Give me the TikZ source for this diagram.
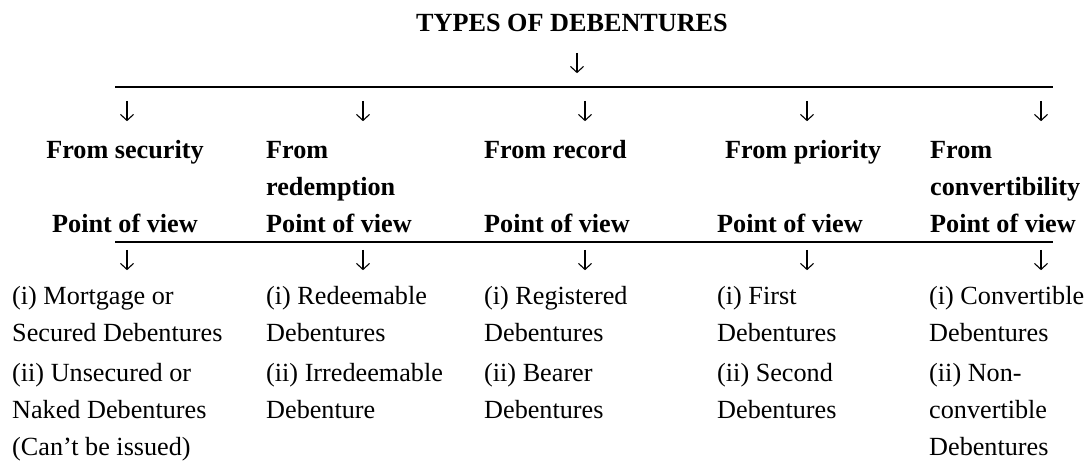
\documentclass[tikz,border=0pt]{standalone}
\usepackage{fontspec}
\setmainfont{Liberation Serif}
\usetikzlibrary{positioning,arrows.meta}

\begin{document}
\begin{tikzpicture}[
    x=1pt, y=-1pt,
    txt/.style={inner sep=0pt, font=\fontsize{26.2}{37}\selectfont},
    head/.style={txt, font=\fontsize{26.2}{37}\selectfont\bfseries, anchor=base west, align=left},
    dn/.style={inner sep=0pt, minimum width=13pt, minimum height=20pt,
        append after command={(\tikzlastnode.north) edge[-{Straight Barb[length=6pt, width=13pt]}, line width=1.1pt] (\tikzlastnode.south)}},
    item/.style={txt, anchor=north west, align=left},
    bar/.style={line width=2.2pt}
]
\useasboundingbox (0,0) rectangle (1091,460);
\node[head, anchor=base] (title) at (572,32) {TYPES OF DEBENTURES};
\node[dn] (down) at (577,63) {};
\coordinate (top-l) at (115,87);
\coordinate (top-r) at (1053,87);
\draw[bar] (top-l) -- (top-r);
% arrows to the five groups
\node[dn] (a-sec) at (127,111) {};
\node[dn] (a-red) at (363,111) {};
\node[dn] (a-rec) at (585,111) {};
\node[dn] (a-pri) at (807,111) {};
\node[dn] (a-con) at (1041,111) {};
% group headings
\node[head, anchor=base] (h-sec) at (125,158) {From security};
\node[head, anchor=base] (p-sec) at (125,232) {Point of view};
\node[head, anchor=north west] (h-red) at (266,132.1) {\strut From\\redemption};
\node[head] (p-red) at (266,232) {Point of view};
\node[head] (h-rec) at (484,158) {From record};
\node[head] (p-rec) at (484,232) {Point of view};
\node[head] (h-pri) at (725,158) {From priority};
\node[head] (p-pri) at (717,232) {Point of view};
\node[head, anchor=north west] (h-con) at (930,132.1) {\strut From\\convertibility};
\node[head] (p-con) at (930,232) {Point of view};
\coordinate (mid-l) at (115,242);
\coordinate (mid-r) at (1053,242);
\draw[bar] (mid-l) -- (mid-r);
\node[dn] (b-sec) at (127,260) {};
\node[dn] (b-red) at (363,260) {};
\node[dn] (b-rec) at (585,260) {};
\node[dn] (b-pri) at (807,260) {};
\node[dn] (b-con) at (1041,260) {};
% kinds of debentures
\node[item] (sec-1) at (12,278.1) {\strut(i) Mortgage or\\Secured Debentures\strut};
\node[item, below=3pt of sec-1.south west, anchor=north west] (sec-2) {\strut(ii) Unsecured or\\Naked Debentures\\(Can’t be issued)\strut};
\node[item] (red-1) at (266,278.1) {\strut(i) Redeemable\\Debentures\strut};
\node[item, below=3pt of red-1.south west, anchor=north west] (red-2) {\strut(ii) Irredeemable\\Debenture\strut};
\node[item] (rec-1) at (484,278.1) {\strut(i) Registered\\Debentures\strut};
\node[item, below=3pt of rec-1.south west, anchor=north west] (rec-2) {\strut(ii) Bearer\\Debentures\strut};
\node[item] (pri-1) at (717,278.1) {\strut(i) First\\Debentures\strut};
\node[item, below=3pt of pri-1.south west, anchor=north west] (pri-2) {\strut(ii) Second\\Debentures\strut};
\node[item] (con-1) at (929,278.1) {\strut(i) Convertible\\Debentures\strut};
\node[item, below=3pt of con-1.south west, anchor=north west] (con-2) {\strut(ii) Non-\\convertible\\Debentures\strut};
\end{tikzpicture}
\end{document}
